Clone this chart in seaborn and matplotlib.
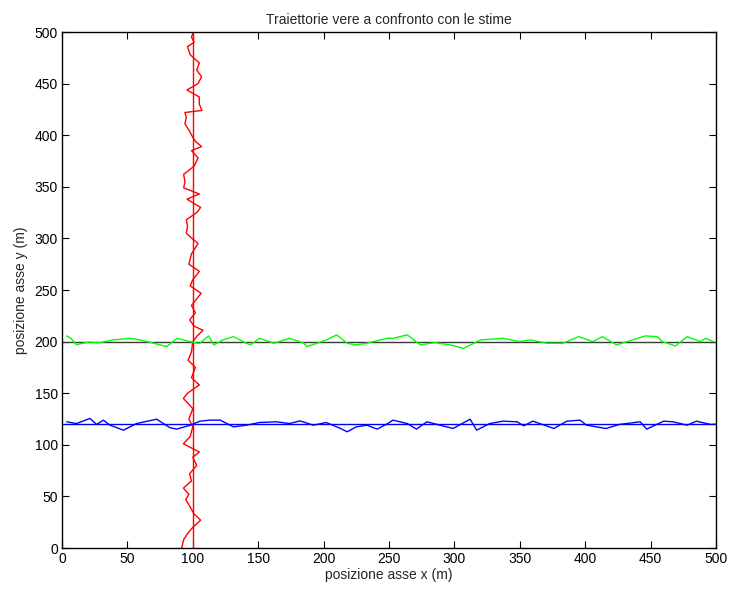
import numpy as np
import pandas as pd
import matplotlib
matplotlib.use("Agg")
import matplotlib.pyplot as plt
import seaborn as sns

# traiettorie vere
true_v_x = [100, 100]
true_v_y = [0, 500]
true_h1_x = [0, 500]
true_h1_y = [200, 200]
true_h2_x = [0, 500]
true_h2_y = [120, 120]

# stima bersaglio 1 (verticale, rosso)
est_red_x = [91.5, 93, 96, 100, 106, 101, 94.6, 97, 92.8, 99, 97.6, 103, 100, 105, 92.8, 98,
             100, 97, 100, 92.8, 96, 105, 99, 102, 96.4, 99, 100, 103, 107.7, 101, 97.6, 102,
             99, 106.3, 98, 100, 105, 97, 99, 104, 95, 96, 95, 103, 106, 95.6, 105, 93, 94,
             93, 101, 104, 99, 106.7, 102, 100, 97, 94, 95, 94, 107, 105, 105, 95.5, 104,
             106.7, 103, 105, 98, 95.9, 101, 99, 100.5]
est_red_y = [0, 8, 14, 20, 27, 33, 47, 52, 58, 65, 72, 80, 88, 93, 101, 108,
             117.5, 125, 135, 145, 150, 158, 165, 175, 182, 190, 200, 205, 211, 215, 221, 228,
             235, 246.8, 254, 260, 268, 275, 285, 295, 305, 312, 318, 325, 330, 338, 343, 349, 355,
             362, 370, 378, 385, 389, 394, 398, 405, 411, 417, 422, 424, 430, 437, 443.8, 450,
             456.7, 463, 470, 478, 485.8, 490, 495, 500]

# stima bersaglio 2 (y = 200, verde)
est_green_x = [3.6, 7, 11, 20, 29, 39, 52, 60, 75, 80, 88, 98, 105, 112, 116, 123, 131, 141,
               144, 151, 162, 174, 185, 187, 195, 202, 210, 218, 225, 233, 243, 249, 253, 264,
               274, 285, 297, 307, 320, 337, 350, 358, 371, 383, 395, 406, 413, 424, 432, 446,
               455, 459, 469, 478, 488, 492, 498]
est_green_y = [205.5, 203, 197, 199.5, 199, 201.6, 203.2, 201.6, 196.8, 195.2, 203.2, 200, 198,
               205.5, 196.8, 201.6, 204.8, 198.4, 196.8, 203.2, 198.4, 203.2, 198.4, 195.2, 198.4,
               201.6, 206.5, 198.4, 196.8, 198.4, 201.6, 203.2, 203.2, 206.5, 196.8, 199, 196.8,
               193.5, 201.6, 203.2, 200, 201.6, 198.4, 198.4, 204.8, 200, 204.8, 196.8, 200,
               205.5, 204.8, 200, 195.8, 204.8, 200, 203.2, 200]

# stima bersaglio 3 (y = 120, blu)
est_blue_x = [3.6, 11, 21.4, 26.5, 31.6, 36.7, 47, 57, 72.4, 82.6, 87.7, 98, 105.5, 113, 121,
              131, 141, 151, 164, 174, 182, 192, 202, 213, 218, 225, 233, 241, 249, 253, 264,
              271, 279, 289, 299, 312, 317, 327, 337, 348, 353, 360, 376, 386, 396, 401, 416,
              426, 442, 447, 460, 467, 478, 485, 496, 500]
est_blue_y = [122.3, 120.6, 125.5, 119.7, 123.9, 119, 114.2, 120.6, 124.8, 116.5, 115.2, 119,
              122.9, 123.9, 123.9, 117.4, 119, 121.6, 122.3, 120.6, 123.2, 119, 121.6, 115.8,
              112.6, 117.4, 119, 115.2, 120.6, 123.9, 120.6, 115.2, 122.3, 119, 115.8, 124.8,
              114.2, 120.6, 122.9, 122.3, 118.4, 122.9, 115.8, 122.9, 123.9, 119, 115.8, 119.7,
              122.3, 115.2, 122.9, 122.3, 119, 122.9, 119.7, 120]

sns.set_style("ticks")
plt.rcParams['font.family'] = ['Liberation Sans', 'DejaVu Sans']

fig = plt.figure(figsize=(7.29, 5.89), dpi=100)
ax = fig.add_axes([62 / 729, 41 / 589, 654 / 729, 516 / 589])

lw = 1.0
sns.lineplot(x=true_v_x, y=true_v_y, color='red', lw=lw, sort=False, estimator=None, ax=ax)
sns.lineplot(x=true_h1_x, y=true_h1_y, color='#3a3a3a', lw=lw, sort=False, estimator=None, ax=ax)
sns.lineplot(x=true_h2_x, y=true_h2_y, color='blue', lw=lw, sort=False, estimator=None, ax=ax)
sns.lineplot(x=est_red_x, y=est_red_y, color='red', lw=lw, sort=False, estimator=None, ax=ax)
sns.lineplot(x=est_green_x, y=est_green_y, color='#00ff00', lw=lw, sort=False, estimator=None, ax=ax)
sns.lineplot(x=est_blue_x, y=est_blue_y, color='blue', lw=lw, sort=False, estimator=None, ax=ax)

ax.set_xlim(0, 500)
ax.set_ylim(0, 500)
ax.set_xticks(range(0, 501, 50))
ax.set_yticks(range(0, 501, 50))
ax.tick_params(direction='in', top=True, right=True, length=5, width=0.8,
               labelsize=10, colors='black', pad=3)
for s in ax.spines.values():
    s.set_visible(True)
    s.set_color('black')
    s.set_linewidth(1.0)

ax.set_title('Traiettorie vere a confronto con le stime', fontsize=10, pad=6)
ax.set_xlabel('posizione asse x (m)', fontsize=10, labelpad=1)
ax.set_ylabel('posizione asse y (m)', fontsize=10, labelpad=5)

fig.savefig('out.png', dpi=100)
